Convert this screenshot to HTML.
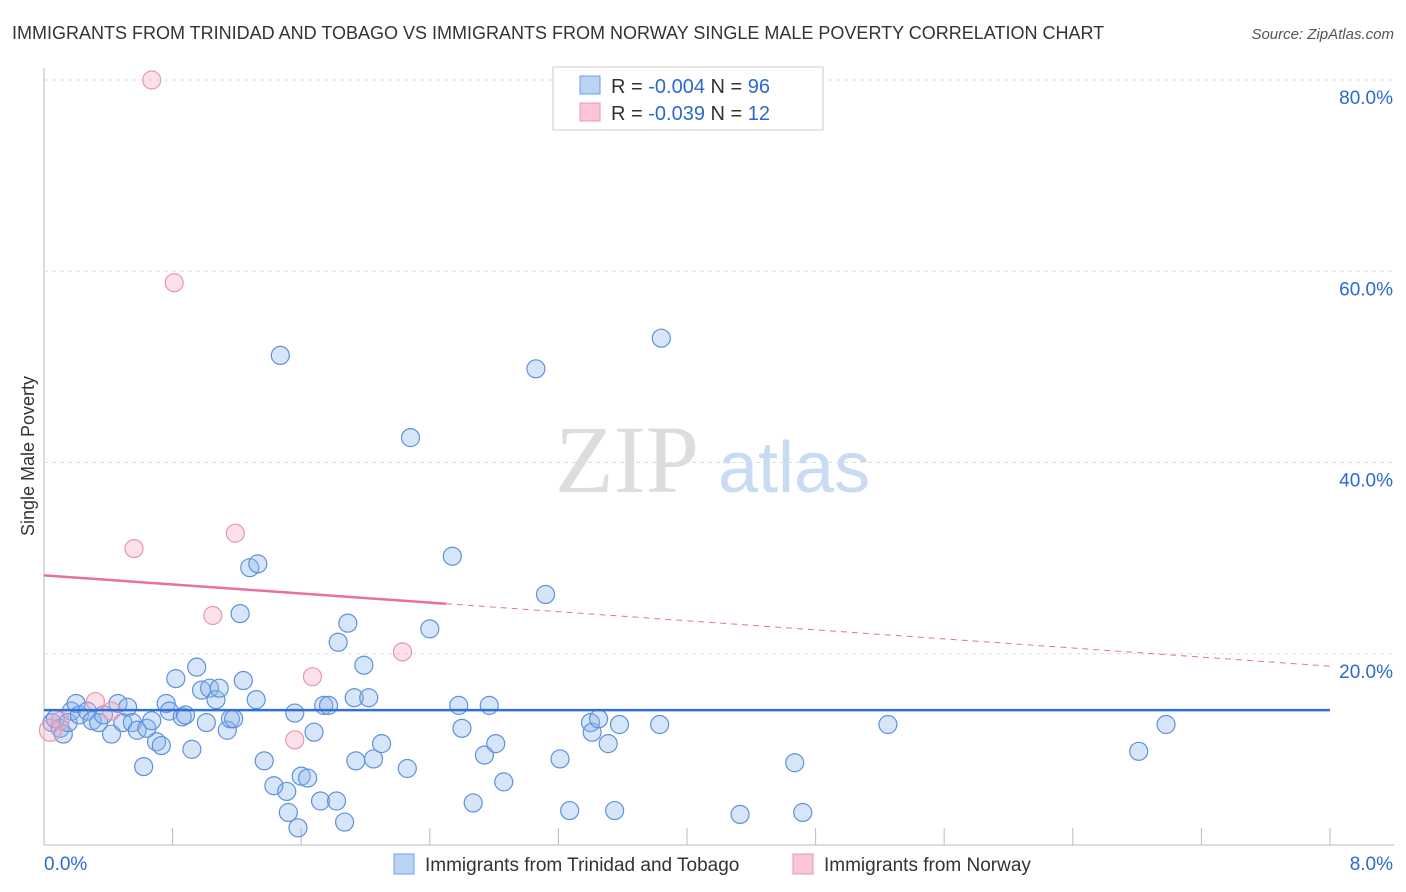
<!DOCTYPE html>
<html><head><meta charset="utf-8"><style>
body{margin:0;background:#fff;font-family:"Liberation Sans",sans-serif}
svg{display:block}
</style></head><body>
<svg id="c" width="1406" height="892">
<text x="12" y="39" font-size="18" fill="#333">IMMIGRANTS FROM TRINIDAD AND TOBAGO VS IMMIGRANTS FROM NORWAY SINGLE MALE POVERTY CORRELATION CHART</text>
<text x="1394" y="39" font-size="15" fill="#555" font-style="italic" text-anchor="end">Source: ZipAtlas.com</text>
<text x="555" y="492" font-size="96" fill="#ddd" font-family="Liberation Serif">ZIP</text>
<text x="718" y="492" font-size="72" fill="#c9daf3">atlas</text>
<text transform="translate(34,456) rotate(-90)" font-size="18" fill="#333" text-anchor="middle">Single Male Poverty</text>
<g id="grid"></g><g id="marks"></g>
<g>
<rect x="553" y="67" width="270" height="63" fill="#fff" stroke="#ccc"/>
<rect x="580" y="76" width="20" height="18" fill="#b9d3f5" stroke="#6f9de0"/>
<rect x="580" y="103" width="20" height="18" fill="#f8c6d4" stroke="#e99ab1"/>
<text x="611" y="93" font-size="20" fill="#333">R = <tspan fill="#2a6ad0">-0.004</tspan>   N = <tspan fill="#2a6ad0">96</tspan></text>
<text x="611" y="120" font-size="20" fill="#333">R =  <tspan fill="#2a6ad0">-0.039</tspan>   N =  <tspan fill="#2a6ad0">12</tspan></text>
</g>
<g>
<rect x="394" y="854" width="20" height="20" fill="#b9d3f5" stroke="#6f9de0"/>
<text x="425" y="871" font-size="19" fill="#333">Immigrants from Trinidad and Tobago</text>
<rect x="793" y="854" width="20" height="20" fill="#f8c6d4" stroke="#e99ab1"/>
<text x="824" y="871" font-size="19" fill="#333">Immigrants from Norway</text>
</g>
</svg>
<script>
const xTicks=[0,0.8,1.6,2.4,3.2,4,4.8,5.6,6.4,7.2,8];
const yTicks=[20,40,60,80];
const blueX=[0.05,0.07,0.10,0.12,0.15,0.17,0.20,0.22,0.27,0.30,0.34,0.37,0.42,0.46,0.49,0.52,0.55,0.58,0.62,0.64,0.67,0.70,0.73,0.76,0.78,0.82,0.86,0.88,0.92,0.95,0.98,1.01,1.03,1.07,1.09,1.14,1.16,1.18,1.24,1.22,1.28,1.32,1.33,1.37,1.43,1.47,1.51,1.52,1.56,1.58,1.60,1.64,1.68,1.72,1.74,1.77,1.82,1.83,1.87,1.89,1.93,1.94,1.99,2.02,2.05,2.10,2.26,2.28,2.40,2.54,2.58,2.60,2.67,2.74,2.77,2.81,2.86,3.06,3.12,3.21,3.27,3.40,3.41,3.45,3.51,3.55,3.58,3.83,3.84,4.33,4.67,4.72,5.25,6.81,6.98];
const blueY=[12.8,13.2,12.2,11.6,12.8,14.0,14.8,13.6,14.0,13.0,12.8,13.6,11.6,14.8,12.8,14.4,12.8,12.0,8.2,12.2,13.0,10.8,10.4,14.8,14.0,17.4,13.4,13.6,10.0,18.6,16.2,12.8,16.4,15.2,16.4,12.0,13.2,13.2,17.2,24.2,29.0,15.2,29.4,8.8,6.2,51.2,5.6,3.4,13.8,1.8,7.2,7.0,11.8,4.6,14.6,14.6,4.6,21.2,2.4,23.2,15.4,8.8,18.8,15.4,9.0,10.6,8.0,42.6,22.6,30.2,14.6,12.2,4.4,9.4,14.6,10.6,6.6,49.8,26.2,9.0,3.6,12.8,11.8,13.2,10.6,3.6,12.6,12.6,53.0,3.2,8.6,3.4,12.6,9.8,12.6];
const pinkX=[0.67,0.81,1.19,0.56,1.05,1.67,2.23,1.56,0.32,0.10,0.04,0.42];
const pinkY=[80.0,58.8,32.6,31.0,24.0,17.6,20.2,11.0,15.0,13.0,12.0,14.0];
const blueTrend=[14.1,14.1];
const pinkTrend=[28.2,18.7];
const sx=v=>44+v*160.75, sy=v=>845-v*9.5625;
const NS='http://www.w3.org/2000/svg';
const grid=document.getElementById('grid'), marks=document.getElementById('marks');
function mk(tag,a,p){const e=document.createElementNS(NS,tag);for(const k in a)e.setAttribute(k,a[k]);p.appendChild(e);return e;}
let e=mk('line',{x1:44,y1:68,x2:44,y2:845,stroke:'#bbb'},grid);


e=mk('line',{x1:44,y1:845,x2:1394,y2:845,stroke:'#bbb'},grid);


yTicks.forEach(t=>{
 const g=mk('line',{x1:44,y1:sy(t),x2:1394,y2:sy(t),stroke:'#ddd','stroke-dasharray':'4,4'},grid);
 
 
 const l=mk('text',{x:1393,y:sy(t)+24,'font-size':19,fill:'#2a6ad0','text-anchor':'end'},grid);
 l.textContent=t.toFixed(1)+'%';
 
 
});
xTicks.forEach(t=>{
 const g=mk('line',{x1:sx(t),y1:828,x2:sx(t),y2:845,stroke:'#bbb'},grid);
 
 
});
[[0,'start',44],[8,'end',1393]].forEach(([t,a,x])=>{
 const l=mk('text',{x:x,y:870,'font-size':19,fill:'#2a6ad0','text-anchor':a},grid);
 l.textContent=t.toFixed(1)+'%';
 
 
});
blueX.forEach((x,i)=>{
 const c=mk('circle',{cx:sx(x),cy:sy(blueY[i]),r:9,fill:'rgba(140,180,235,0.35)',stroke:'#5d92dc','stroke-width':1.2},marks);
 
 
});
pinkX.forEach((x,i)=>{
 const c=mk('circle',{cx:sx(x),cy:sy(pinkY[i]),r:i==10?11:9,fill:'rgba(245,170,195,0.35)',stroke:'#e995b0','stroke-width':1.2},marks);
 
 
});
const pAt=x=>pinkTrend[0]+(pinkTrend[1]-pinkTrend[0])*x/8;
e=mk('line',{x1:sx(0),y1:sy(pAt(0)),x2:sx(2.5),y2:sy(pAt(2.5)),stroke:'#e8709a','stroke-width':2.5},marks);


e=mk('line',{x1:sx(2.5),y1:sy(pAt(2.5)),x2:sx(8),y2:sy(pAt(8)),stroke:'#e8709a','stroke-width':1,'stroke-dasharray':'6,5'},marks);


e=mk('line',{x1:sx(0),y1:sy(blueTrend[0]),x2:sx(8),y2:sy(blueTrend[1]),stroke:'#2f6fd6','stroke-width':2.5},marks);


</script>
</body></html>
